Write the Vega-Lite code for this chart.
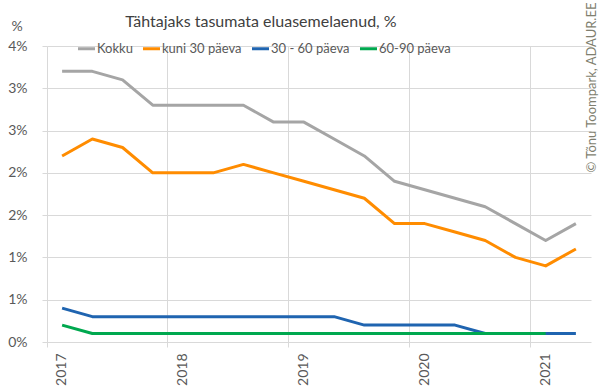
{
  "$schema": "https://vega.github.io/schema/vega-lite/v6.json",
  "width": 544,
  "height": 296,
  "autosize": {"type": "none"},
  "padding": {"left": 47, "top": 46, "right": 9, "bottom": 50},
  "background": "white",
  "config": {"font": "Lato", "view": {"stroke": null}},
  "title": {"text": "Tähtajaks tasumata eluasemelaenud, %", "fontSize": 16, "fontWeight": "normal", "color": "#404040", "anchor": "middle", "dx": -58, "offset": -42, "baseline": "alphabetic"},
  "data": {"values": [
    {"period": "2017-Q1", "series": "Kokku", "value": 3.2},
    {"period": "2017-Q2", "series": "Kokku", "value": 3.2},
    {"period": "2017-Q3", "series": "Kokku", "value": 3.1},
    {"period": "2017-Q4", "series": "Kokku", "value": 2.8},
    {"period": "2018-Q1", "series": "Kokku", "value": 2.8},
    {"period": "2018-Q2", "series": "Kokku", "value": 2.8},
    {"period": "2018-Q3", "series": "Kokku", "value": 2.8},
    {"period": "2018-Q4", "series": "Kokku", "value": 2.6},
    {"period": "2019-Q1", "series": "Kokku", "value": 2.6},
    {"period": "2019-Q2", "series": "Kokku", "value": 2.4},
    {"period": "2019-Q3", "series": "Kokku", "value": 2.2},
    {"period": "2019-Q4", "series": "Kokku", "value": 1.9},
    {"period": "2020-Q1", "series": "Kokku", "value": 1.8},
    {"period": "2020-Q2", "series": "Kokku", "value": 1.7},
    {"period": "2020-Q3", "series": "Kokku", "value": 1.6},
    {"period": "2020-Q4", "series": "Kokku", "value": 1.4},
    {"period": "2021-Q1", "series": "Kokku", "value": 1.2},
    {"period": "2021-Q2", "series": "Kokku", "value": 1.4},
    {"period": "2017-Q1", "series": "kuni 30 päeva", "value": 2.2},
    {"period": "2017-Q2", "series": "kuni 30 päeva", "value": 2.4},
    {"period": "2017-Q3", "series": "kuni 30 päeva", "value": 2.3},
    {"period": "2017-Q4", "series": "kuni 30 päeva", "value": 2.0},
    {"period": "2018-Q1", "series": "kuni 30 päeva", "value": 2.0},
    {"period": "2018-Q2", "series": "kuni 30 päeva", "value": 2.0},
    {"period": "2018-Q3", "series": "kuni 30 päeva", "value": 2.1},
    {"period": "2018-Q4", "series": "kuni 30 päeva", "value": 2.0},
    {"period": "2019-Q1", "series": "kuni 30 päeva", "value": 1.9},
    {"period": "2019-Q2", "series": "kuni 30 päeva", "value": 1.8},
    {"period": "2019-Q3", "series": "kuni 30 päeva", "value": 1.7},
    {"period": "2019-Q4", "series": "kuni 30 päeva", "value": 1.4},
    {"period": "2020-Q1", "series": "kuni 30 päeva", "value": 1.4},
    {"period": "2020-Q2", "series": "kuni 30 päeva", "value": 1.3},
    {"period": "2020-Q3", "series": "kuni 30 päeva", "value": 1.2},
    {"period": "2020-Q4", "series": "kuni 30 päeva", "value": 1.0},
    {"period": "2021-Q1", "series": "kuni 30 päeva", "value": 0.9},
    {"period": "2021-Q2", "series": "kuni 30 päeva", "value": 1.1},
    {"period": "2017-Q1", "series": "30 - 60 päeva", "value": 0.4},
    {"period": "2017-Q2", "series": "30 - 60 päeva", "value": 0.3},
    {"period": "2017-Q3", "series": "30 - 60 päeva", "value": 0.3},
    {"period": "2017-Q4", "series": "30 - 60 päeva", "value": 0.3},
    {"period": "2018-Q1", "series": "30 - 60 päeva", "value": 0.3},
    {"period": "2018-Q2", "series": "30 - 60 päeva", "value": 0.3},
    {"period": "2018-Q3", "series": "30 - 60 päeva", "value": 0.3},
    {"period": "2018-Q4", "series": "30 - 60 päeva", "value": 0.3},
    {"period": "2019-Q1", "series": "30 - 60 päeva", "value": 0.3},
    {"period": "2019-Q2", "series": "30 - 60 päeva", "value": 0.3},
    {"period": "2019-Q3", "series": "30 - 60 päeva", "value": 0.2},
    {"period": "2019-Q4", "series": "30 - 60 päeva", "value": 0.2},
    {"period": "2020-Q1", "series": "30 - 60 päeva", "value": 0.2},
    {"period": "2020-Q2", "series": "30 - 60 päeva", "value": 0.2},
    {"period": "2020-Q3", "series": "30 - 60 päeva", "value": 0.1},
    {"period": "2020-Q4", "series": "30 - 60 päeva", "value": 0.1},
    {"period": "2021-Q1", "series": "30 - 60 päeva", "value": 0.1},
    {"period": "2021-Q2", "series": "30 - 60 päeva", "value": 0.1},
    {"period": "2017-Q1", "series": "60-90 päeva", "value": 0.2},
    {"period": "2017-Q2", "series": "60-90 päeva", "value": 0.1},
    {"period": "2017-Q3", "series": "60-90 päeva", "value": 0.1},
    {"period": "2017-Q4", "series": "60-90 päeva", "value": 0.1},
    {"period": "2018-Q1", "series": "60-90 päeva", "value": 0.1},
    {"period": "2018-Q2", "series": "60-90 päeva", "value": 0.1},
    {"period": "2018-Q3", "series": "60-90 päeva", "value": 0.1},
    {"period": "2018-Q4", "series": "60-90 päeva", "value": 0.1},
    {"period": "2019-Q1", "series": "60-90 päeva", "value": 0.1},
    {"period": "2019-Q2", "series": "60-90 päeva", "value": 0.1},
    {"period": "2019-Q3", "series": "60-90 päeva", "value": 0.1},
    {"period": "2019-Q4", "series": "60-90 päeva", "value": 0.1},
    {"period": "2020-Q1", "series": "60-90 päeva", "value": 0.1},
    {"period": "2020-Q2", "series": "60-90 päeva", "value": 0.1},
    {"period": "2020-Q3", "series": "60-90 päeva", "value": 0.1},
    {"period": "2020-Q4", "series": "60-90 päeva", "value": 0.1},
    {"period": "2021-Q1", "series": "60-90 päeva", "value": 0.1}
  ]},
  "layer": [
    {
      "mark": {"type": "line", "strokeWidth": 3, "strokeJoin": "round"},
      "encoding": {
        "x": {"field": "period", "type": "ordinal", "sort": null,
          "scale": {"type": "band", "paddingInner": 0, "paddingOuter": 0},
          "axis": {"values": ["2017-Q1", "2018-Q1", "2019-Q1", "2020-Q1", "2021-Q1"], "labelExpr": "slice(datum.value, 0, 4)", "labelAngle": 270, "bandPosition": 0, "labelOffset": 0, "title": null, "grid": true, "gridColor": "#D9D9D9", "tickColor": "#D9D9D9", "tickSize": 5, "domain": false, "labelPadding": 6, "labelFontSize": 14, "labelColor": "#595959"}},
        "y": {"field": "value", "type": "quantitative",
          "scale": {"domain": [0, 3.5], "nice": false},
          "axis": {"values": [0, 0.5, 1, 1.5, 2, 2.5, 3, 3.5], "labelExpr": "round(datum.value) + '%'", "title": "%", "titleAngle": 0, "titleAlign": "left", "titleBaseline": "middle", "titleX": -36, "titleY": -20, "titleFontSize": 14, "titleFontWeight": "normal", "titleColor": "#595959", "labelFontSize": 14, "labelColor": "#595959", "gridColor": "#D9D9D9", "tickColor": "#D9D9D9", "tickSize": 5, "labelPadding": 15, "domain": false}},
        "color": {"field": "series", "type": "nominal",
          "scale": {"domain": ["Kokku", "kuni 30 päeva", "30 - 60 päeva", "60-90 päeva"], "range": ["#A5A5A5", "#FF8C00", "#1F64B0", "#00A84F"]},
          "legend": {"orient": "none", "direction": "horizontal", "legendX": 29, "legendY": -8, "title": null, "symbolType": "stroke", "symbolStrokeWidth": 3, "symbolSize": 290, "labelFontSize": 13, "labelOffset": 0, "columnPadding": 3, "labelColor": "#595959", "padding": 0}}
      }
    },
    {
      "data": {"values": [{"v": 0}]},
      "mark": {"type": "point", "opacity": 0},
      "encoding": {
        "y": {"field": "v", "type": "quantitative",
          "axis": {"orient": "right", "labels": false, "ticks": false, "domain": false, "grid": false, "title": "© Tõnu Toompark, ADAUR.EE", "titleAngle": 270, "titleAlign": "center", "titleBaseline": "middle", "titleX": 0, "titleY": 41, "titleFontSize": 13, "titleFontWeight": "normal", "titleColor": "#7F7F6F"}}
      }
    }
  ],
  "resolve": {"axis": {"y": "independent"}}
}
